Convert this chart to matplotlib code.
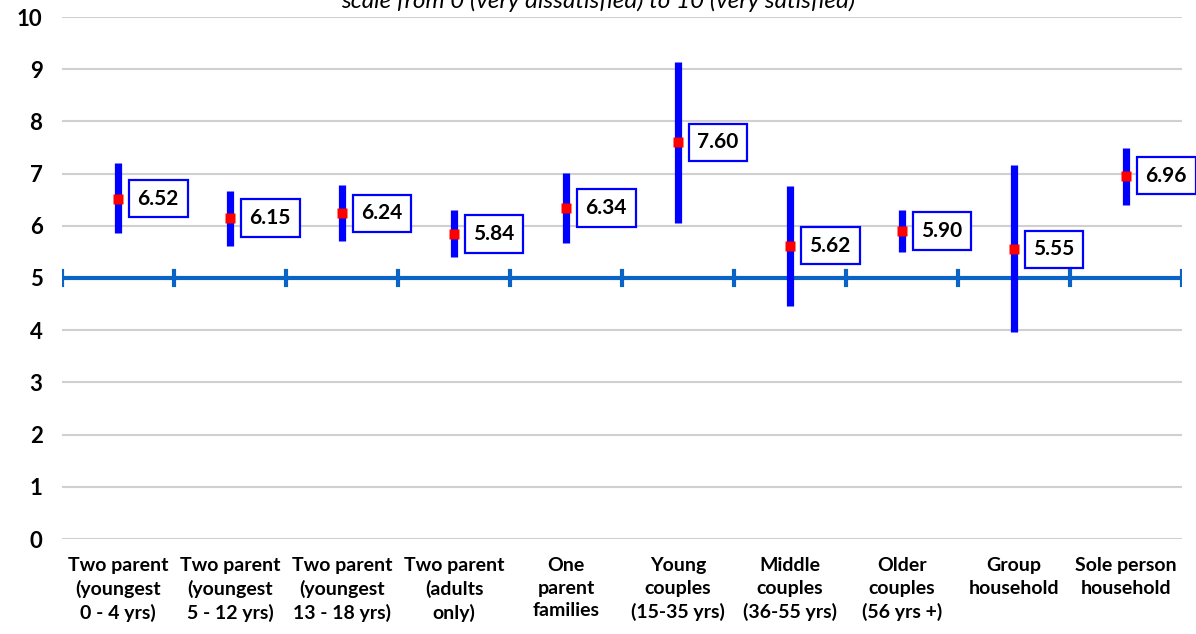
import matplotlib.pyplot as plt

plt.rcParams['font.family'] = ['Lato', 'DejaVu Sans']

categories = [
    "Two parent\n(youngest\n0 - 4 yrs)",
    "Two parent\n(youngest\n5 - 12 yrs)",
    "Two parent\n(youngest\n13 - 18 yrs)",
    "Two parent\n(adults\nonly)",
    "One\nparent\nfamilies",
    "Young\ncouples\n(15-35 yrs)",
    "Middle\ncouples\n(36-55 yrs)",
    "Older\ncouples\n(56 yrs +)",
    "Group\nhousehold",
    "Sole person\nhousehold",
]
means = [6.52, 6.15, 6.24, 5.84, 6.34, 7.60, 5.62, 5.90, 5.55, 6.96]
lower = [5.86, 5.62, 5.71, 5.41, 5.68, 6.05, 4.47, 5.50, 3.96, 6.40]
upper = [7.20, 6.67, 6.79, 6.30, 7.02, 9.14, 6.76, 6.30, 7.16, 7.50]
midpoint = 5
subtitle = "scale from 0 (very dissatisfied) to 10 (very satisfied)"

fig = plt.figure(figsize=(11.96, 6.34), dpi=100)
ax = fig.add_axes([62 / 1196, 95 / 634, 1120 / 1196, 522 / 634])

x = list(range(len(categories)))
ax.set_xlim(-0.5, len(categories) - 0.5)
ax.set_ylim(0, 10)

# grid
for v in range(0, 11):
    ax.axhline(v, color="#D0D0D0", lw=1.5, zorder=0)

# midpoint line with category separators
ax.plot([-0.5, len(categories) - 0.5], [midpoint, midpoint], color="#0A64C8", lw=3, zorder=1)
for b in range(len(categories) + 1):
    ax.plot([b - 0.5, b - 0.5], [midpoint - 0.13, midpoint + 0.13], color="#0A64C8", lw=3, zorder=1)

# confidence ranges and means
ax.vlines(x, lower, upper, color="#0000FF", lw=5.2, zorder=3)
ax.plot(x, means, ls="none", marker="s", ms=7, color="#FF0000", mec="none", zorder=4)

for xi, m in zip(x, means):
    ax.annotate(f"{m:.2f}", (xi, m), xytext=(14, 0), textcoords="offset points",
                ha="left", va="center", fontsize=15, fontweight="bold", color="black",
                bbox=dict(boxstyle="square,pad=0.42", fc="white", ec="#0000FF", lw=1.6),
                zorder=5)

ax.set_xticks(x)
ax.set_xticklabels(categories, fontsize=14, fontweight="bold", linespacing=1.4)
ax.set_yticks(range(0, 11))
ax.set_yticklabels([str(v) for v in range(0, 11)], fontsize=16, fontweight="bold")
ax.tick_params(axis="both", length=0)
ax.tick_params(axis="y", pad=14)
ax.tick_params(axis="x", pad=13)
for s in ax.spines.values():
    s.set_visible(False)

fig.text(0.5, 1 - 8 / 634, subtitle, ha="center", va="baseline", fontsize=17.5, style="italic")

fig.savefig("out.png", dpi=100)
